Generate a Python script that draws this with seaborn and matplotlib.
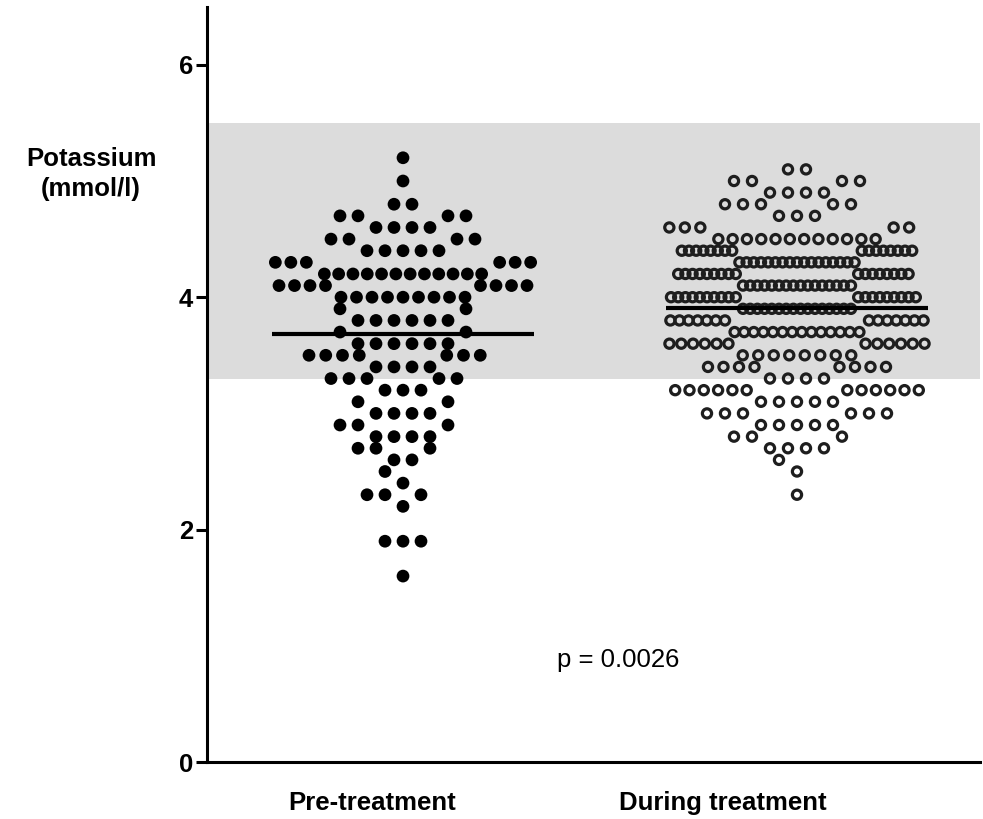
import numpy as np
import pandas as pd
import matplotlib
matplotlib.use("Agg")
import matplotlib.pyplot as plt
import seaborn as sns

# ---------------- data ----------------
groups = ["Pre-treatment", "During treatment"]

pre_levels = [5.2, 5.0, 4.8, 4.7, 4.6, 4.5, 4.4, 4.3, 4.2, 4.1, 4.0, 3.9, 3.8, 3.7, 3.6,
              3.5, 3.4, 3.3, 3.2, 3.1, 3.0, 2.9, 2.8, 2.7, 2.6, 2.5, 2.4, 2.3, 2.2, 1.9, 1.6]
pre_counts = [1, 1, 2, 4, 4, 4, 5, 6, 12, 8, 9, 2, 6, 2, 6,
              7, 4, 5, 3, 2, 4, 3, 4, 3, 2, 1, 1, 3, 1, 3, 1]

during_levels = [5.1, 5.0, 4.9, 4.8, 4.7, 4.6, 4.5, 4.4, 4.3, 4.2, 4.1, 4.0, 3.9, 3.8,
                 3.7, 3.6, 3.5, 3.4, 3.3, 3.2, 3.1, 3.0, 2.9, 2.8, 2.7, 2.6, 2.5, 2.3]
during_counts = [2, 4, 4, 5, 3, 5, 12, 16, 17, 17, 16, 19, 16, 14,
                 14, 12, 8, 8, 4, 12, 5, 6, 5, 3, 4, 1, 1, 1]

normal_range = (3.3, 5.5)
y_ticks = [0, 2, 4, 6]
y_label = "Potassium\n(mmol/l)"
p_text = "p = 0.0026"

# ---------------- style ----------------
sns.set_theme(style="ticks")
plt.rcParams["font.family"] = ["Liberation Sans", "DejaVu Sans"]
plt.rcParams["text.color"] = "black"
FS = 18.5

W, H, DPI = 983, 819, 100
fig = plt.figure(figsize=(W / DPI, H / DPI), dpi=DPI)
ax_left, ax_right, ax_bottom, ax_top = 207, 980, 762, 6.7
ax = fig.add_axes([ax_left / W, 1 - ax_bottom / H,
                   (ax_right - ax_left) / W, (ax_bottom - ax_top) / H])
XLIM = (-0.4975, 1.4645)
YLIM = (0, 6.5)

px_per_x = (ax_right - ax_left) / (XLIM[1] - XLIM[0])
px_per_y = (ax_bottom - ax_top) / (YLIM[1] - YLIM[0])


# ---------------- Prism-like row swarm layout (pixel space) ----------------
def row_spacing(n):
    return float(np.interp(n, [6, 8, 9, 12, 14, 16],
                           [18.0, 15.5, 15.5, 14.3, 9.6, 7.2]))


def free_below(x, blocked):
    moved = True
    while moved:
        moved = False
        for lo, hi in blocked:
            if lo + 1e-9 < x < hi - 1e-9:
                x, moved = lo, True
    return x


def free_above(x, blocked):
    moved = True
    while moved:
        moved = False
        for lo, hi in blocked:
            if lo + 1e-9 < x < hi - 1e-9:
                x, moved = hi, True
    return x


def split_row(n, s, blocked):
    pts = []
    left_c = free_below(0.0, blocked)
    right_c = free_above(0.0, blocked)
    while len(pts) < n:
        if abs(left_c) <= abs(right_c):
            pts.append(left_c)
            left_c = free_below(left_c - s, blocked)
        else:
            pts.append(right_c)
            right_c = free_above(right_c + s, blocked)
    return sorted(pts)


def place_row(n, s, neigh, cap=128.0):
    blocked = [(x - s, x + s) for x in neigh]
    zero_free = all(not (lo + 1e-9 < 0 < hi - 1e-9) for lo, hi in blocked)
    if zero_free:
        return list((np.arange(n) - (n - 1) / 2) * s)
    s_try = s
    pts = split_row(n, s_try, blocked)
    while max(abs(p) for p in pts) > cap and s_try > 0.5 * s:
        s_try -= 0.25
        pts = split_row(n, s_try, blocked)
    return pts


def swarm(values, step=0.1):
    vals = np.round(np.asarray(values, dtype=float), 2)
    placed = {}
    out = np.zeros(len(vals))
    for lv in np.unique(vals):
        idx = np.where(vals == lv)[0]
        s = row_spacing(len(idx))
        neigh = placed.get(round(lv - step, 2), [])
        row = place_row(len(idx), s, neigh)
        placed[round(lv, 2)] = row
        out[idx] = np.array(row) / px_per_x
    return out


pre_vals = np.repeat(pre_levels, pre_counts)
dur_vals = np.repeat(during_levels, during_counts)

df = pd.concat([
    pd.DataFrame({"group": groups[0], "value": pre_vals, "x": 0 + swarm(pre_vals)}),
    pd.DataFrame({"group": groups[1], "value": dur_vals, "x": 1 + swarm(dur_vals)}),
], ignore_index=True)

# ---------------- drawing ----------------
ax.axhspan(*normal_range, color="#dcdcdc", lw=0, zorder=0)

d0 = df[df.group == groups[0]]
d1 = df[df.group == groups[1]]
sns.scatterplot(data=d0, x="x", y="value", s=84, color="black", linewidth=0,
                edgecolor="none", legend=False, ax=ax, zorder=2)
sns.scatterplot(data=d1, x="x", y="value", s=44, facecolor="none",
                edgecolor="#1e1e1e", linewidth=2.3, legend=False, ax=ax, zorder=2)

half = 0.333
for i, g in enumerate(groups):
    m = df.loc[df.group == g, "value"].mean()
    ax.hlines(m, i - half, i + half, color="black", lw=3.0, zorder=3)

ax.set_xlim(*XLIM)
ax.set_ylim(*YLIM)
ax.set_xlabel("")
ax.set_ylabel("")

ax.set_yticks(y_ticks)
ax.set_yticklabels([str(t) for t in y_ticks])
ax.set_xticks([-0.079, 0.812])
ax.set_xticklabels(groups)

for side in ["top", "right"]:
    ax.spines[side].set_visible(False)
for side in ["left", "bottom"]:
    ax.spines[side].set_linewidth(2.2)
    ax.spines[side].set_color("black")

ax.tick_params(axis="y", length=8, width=2.2, pad=2, labelsize=FS, colors="black")
ax.tick_params(axis="x", length=0, pad=21, labelsize=FS, colors="black")
for lbl in ax.get_yticklabels() + ax.get_xticklabels():
    lbl.set_fontweight("bold")
    lbl.set_color("black")

ax.text((618 - 403) / px_per_x, 0.88, p_text, fontsize=FS, ha="center", va="center",
        color="black")

fig.text(91 / W, 1 - 174 / H, y_label, ha="center", va="center", color="black",
         fontweight="bold", fontsize=FS, linespacing=1.3)

fig.savefig("out.png", dpi=DPI)
